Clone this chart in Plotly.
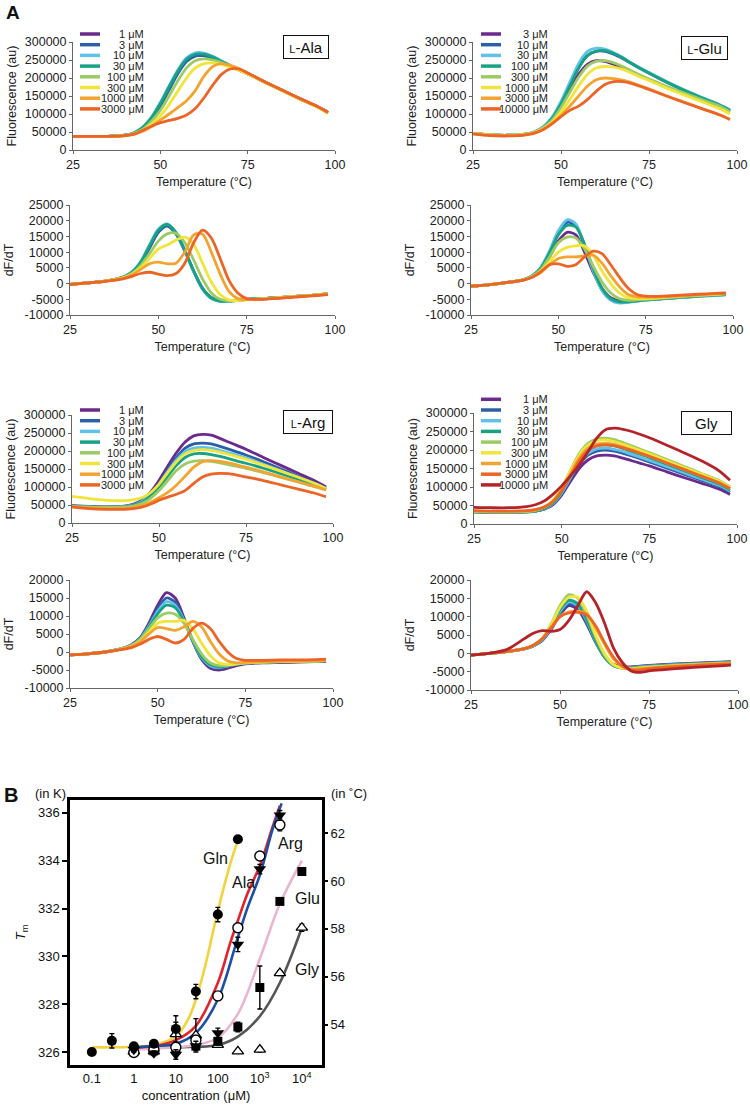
import plotly.graph_objects as go

W, H = 750, 1111
FONT = "Arial, Liberation Sans, Helvetica, sans-serif"

# ---------------- Panel A data (values in thousands) ----------------
T = [25, 30, 35, 40, 42.5, 45, 47.5, 50, 52.5, 55, 57.5, 60, 62.5, 65, 67.5, 70, 72.5, 75, 80, 85, 90, 95, 98]

ALA_CONC = ["1 μM", "3 μM", "10 μM", "30 μM", "100 μM", "300 μM", "1000 μM", "3000 μM"]
GLU_CONC = ["3 μM", "10 μM", "30 μM", "100 μM", "300 μM", "1000 μM", "3000 μM", "10000 μM"]
ARG_CONC = ["1 μM", "3 μM", "10 μM", "30 μM", "100 μM", "300 μM", "1000 μM", "3000 μM"]
GLY_CONC = ["1 μM", "3 μM", "10 μM", "30 μM", "100 μM", "300 μM", "1000 μM", "3000 μM", "10000 μM"]

COLORS = ["#6b2a8e", "#2c5fa8", "#62c0ea", "#17a383", "#9ccb64", "#f2e53a", "#f3a430", "#ec6426", "#b3242a"]

ALA_F = [
    [38, 38, 38, 41, 47, 62, 88, 125, 170, 215, 248, 262, 262, 255, 244, 232, 222, 212, 188, 165, 142, 120, 104],
    [38, 38, 38, 41, 47, 61, 86, 122, 167, 212, 246, 261, 262, 256, 245, 233, 222, 212, 188, 165, 142, 120, 104],
    [38, 38, 38, 41, 48, 64, 92, 132, 178, 222, 256, 270, 269, 260, 248, 235, 223, 212, 188, 165, 142, 120, 104],
    [38, 38, 38, 41, 48, 63, 90, 129, 175, 219, 252, 266, 266, 258, 246, 234, 222, 212, 188, 165, 142, 120, 104],
    [38, 38, 38, 41, 46, 58, 80, 110, 150, 192, 228, 248, 253, 250, 243, 232, 222, 212, 188, 165, 142, 120, 103],
    [38, 38, 38, 40, 45, 55, 72, 95, 126, 163, 200, 228, 240, 242, 238, 230, 221, 211, 187, 164, 141, 119, 102],
    [38, 38, 38, 40, 44, 52, 66, 83, 100, 118, 137, 165, 205, 232, 240, 235, 226, 214, 189, 165, 142, 120, 103],
    [38, 38, 38, 40, 44, 55, 66, 76, 82, 88, 97, 115, 145, 180, 210, 225, 225, 214, 189, 166, 143, 121, 105],
]
GLU_F = [
    [46, 42, 41, 44, 50, 62, 85, 122, 168, 210, 238, 248, 246, 238, 228, 216, 205, 195, 175, 156, 138, 120, 106],
    [46, 42, 41, 44, 50, 63, 88, 128, 178, 228, 262, 274, 274, 266, 254, 240, 226, 213, 188, 165, 145, 125, 110],
    [46, 42, 41, 44, 51, 65, 92, 135, 188, 240, 274, 283, 280, 270, 257, 242, 228, 215, 190, 167, 146, 126, 111],
    [46, 42, 41, 44, 50, 63, 88, 128, 178, 228, 263, 275, 276, 268, 256, 241, 227, 214, 189, 166, 145, 125, 110],
    [46, 42, 41, 44, 50, 62, 83, 118, 160, 202, 233, 246, 248, 242, 232, 220, 208, 197, 177, 158, 140, 122, 106],
    [46, 42, 41, 44, 49, 60, 78, 106, 140, 178, 210, 228, 232, 230, 224, 214, 203, 193, 172, 153, 134, 115, 100],
    [45, 41, 40, 43, 48, 58, 74, 96, 122, 150, 177, 195, 200, 198, 194, 187, 178, 170, 150, 133, 115, 98, 85],
    [45, 40, 39, 42, 47, 57, 73, 93, 110, 122, 140, 163, 182, 190, 190, 185, 177, 168, 150, 132, 115, 98, 85],
]
ALA_DF = [
    [-0.3, 0.2, 0.8, 2.0, 3.5, 6.5, 11.5, 16.5, 18.5, 16.0, 10.5, 4.0, -1.5, -4.5, -5.5, -5.5, -5.3, -5.0, -4.8, -4.4, -4.0, -3.6, -3.3],
    [-0.3, 0.2, 0.8, 2.0, 3.5, 6.4, 11.3, 16.3, 18.3, 15.8, 10.3, 3.9, -1.5, -4.5, -5.5, -5.5, -5.3, -5.0, -4.8, -4.4, -4.0, -3.6, -3.3],
    [-0.3, 0.2, 0.8, 2.1, 3.7, 7.0, 12.3, 17.3, 19.0, 16.3, 10.5, 3.8, -1.8, -4.8, -5.7, -5.6, -5.3, -5.0, -4.8, -4.4, -4.0, -3.6, -3.3],
    [-0.3, 0.2, 0.8, 2.1, 3.6, 6.8, 12.0, 17.0, 18.8, 16.2, 10.6, 4.0, -1.6, -4.6, -5.6, -5.6, -5.3, -5.0, -4.8, -4.4, -4.0, -3.6, -3.3],
    [-0.3, 0.2, 0.8, 1.9, 3.2, 5.8, 9.5, 13.5, 15.8, 16.0, 13.0, 7.5, 1.5, -3.0, -5.0, -5.5, -5.4, -5.1, -4.8, -4.4, -4.0, -3.6, -3.3],
    [-0.3, 0.2, 0.8, 1.8, 3.0, 5.0, 8.0, 11.0, 12.3, 13.8, 14.8, 12.5, 6.5, 0.5, -3.5, -5.2, -5.4, -5.2, -4.8, -4.4, -4.0, -3.6, -3.3],
    [-0.3, 0.2, 0.8, 1.7, 2.8, 4.5, 6.3, 6.8, 6.3, 6.5, 10.0, 15.5, 15.8, 10.0, 3.0, -2.5, -4.8, -5.1, -4.9, -4.5, -4.1, -3.7, -3.4],
    [-0.3, 0.2, 0.7, 1.5, 2.3, 3.2, 3.6, 3.0, 2.5, 3.2, 6.5, 13.0, 17.0, 14.5, 8.0, 1.0, -3.0, -4.8, -5.0, -4.6, -4.2, -3.8, -3.5],
]
GLU_DF = [
    [-0.8, -0.4, 0.3, 1.2, 2.3, 4.5, 8.5, 13.5, 16.3, 15.5, 10.0, 3.5, -1.5, -4.5, -5.5, -5.5, -5.2, -5.0, -4.6, -4.2, -3.8, -3.5, -3.3],
    [-0.8, -0.4, 0.3, 1.2, 2.4, 5.0, 10.0, 16.0, 19.5, 18.5, 12.0, 4.0, -2.0, -5.0, -6.0, -5.8, -5.5, -5.2, -4.8, -4.4, -4.0, -3.7, -3.5],
    [-0.8, -0.4, 0.3, 1.3, 2.5, 5.2, 10.5, 16.8, 20.3, 19.0, 12.3, 4.0, -2.2, -5.3, -6.2, -6.0, -5.6, -5.3, -4.9, -4.5, -4.1, -3.8, -3.6],
    [-0.8, -0.4, 0.3, 1.2, 2.4, 5.0, 9.8, 15.5, 18.5, 18.0, 12.5, 4.8, -1.5, -4.8, -5.8, -5.8, -5.5, -5.2, -4.8, -4.4, -4.0, -3.7, -3.5],
    [-0.8, -0.4, 0.3, 1.2, 2.3, 4.5, 8.5, 13.0, 14.8, 14.5, 11.0, 5.5, 0.5, -3.0, -4.8, -5.3, -5.2, -5.0, -4.6, -4.2, -3.8, -3.5, -3.3],
    [-0.8, -0.4, 0.3, 1.2, 2.2, 4.0, 7.0, 10.0, 11.5, 12.0, 12.0, 9.0, 4.0, 0.0, -3.0, -4.5, -4.8, -4.8, -4.5, -4.0, -3.7, -3.4, -3.2],
    [-0.8, -0.4, 0.3, 1.1, 2.0, 3.5, 6.0, 8.0, 8.5, 8.5, 8.8, 9.0, 6.5, 2.5, -1.0, -3.5, -4.2, -4.3, -4.2, -3.9, -3.6, -3.3, -3.1],
    [-0.8, -0.4, 0.3, 1.1, 2.0, 3.8, 6.0, 6.3, 5.5, 6.0, 8.5, 10.3, 9.5, 6.0, 2.0, -1.5, -3.5, -4.0, -4.0, -3.7, -3.4, -3.1, -3.0],
]
ARG_F = [
    [48, 46, 45, 47, 52, 63, 85, 118, 158, 195, 225, 242, 246, 244, 235, 225, 215, 205, 182, 160, 138, 116, 100],
    [47, 45, 44, 46, 50, 60, 80, 110, 148, 182, 208, 220, 222, 220, 213, 205, 197, 189, 170, 150, 130, 110, 97],
    [47, 45, 44, 46, 50, 60, 79, 107, 143, 175, 198, 208, 210, 208, 202, 195, 188, 181, 163, 145, 127, 108, 96],
    [47, 45, 44, 45, 49, 57, 74, 98, 130, 160, 182, 192, 193, 190, 185, 179, 172, 166, 152, 137, 121, 105, 94],
    [46, 44, 43, 44, 47, 54, 68, 90, 118, 146, 164, 172, 173, 171, 167, 162, 157, 152, 140, 127, 114, 100, 92],
    [74, 68, 63, 62, 64, 70, 84, 108, 140, 170, 192, 201, 204, 202, 197, 191, 184, 177, 161, 144, 127, 109, 96],
    [45, 42, 40, 41, 43, 48, 57, 70, 85, 105, 130, 155, 170, 173, 171, 167, 161, 155, 142, 128, 114, 101, 92],
    [45, 40, 38, 38, 40, 44, 52, 63, 72, 80, 90, 110, 128, 136, 138, 137, 133, 128, 118, 106, 94, 82, 73],
]
GLY_F = [
    [33, 32, 32, 33, 35, 40, 52, 78, 115, 150, 173, 184, 186, 184, 178, 171, 164, 157, 141, 125, 110, 94, 80],
    [33, 32, 32, 33, 35, 41, 54, 82, 122, 160, 186, 197, 200, 197, 191, 184, 176, 168, 151, 134, 118, 101, 86],
    [33, 32, 32, 33, 35, 41, 55, 84, 125, 165, 191, 203, 205, 202, 196, 188, 180, 172, 155, 138, 121, 104, 89],
    [33, 32, 32, 33, 35, 42, 57, 88, 130, 172, 200, 212, 214, 211, 204, 196, 188, 180, 162, 144, 126, 108, 92],
    [34, 33, 33, 34, 37, 45, 63, 98, 145, 190, 218, 230, 232, 228, 220, 211, 202, 193, 174, 155, 136, 117, 101],
    [35, 34, 34, 35, 38, 46, 64, 98, 143, 186, 213, 225, 227, 223, 215, 207, 198, 190, 171, 152, 134, 115, 99],
    [35, 34, 34, 35, 38, 45, 61, 93, 136, 178, 205, 216, 218, 215, 208, 200, 191, 183, 165, 147, 129, 111, 96],
    [36, 35, 35, 36, 39, 46, 61, 90, 130, 171, 199, 211, 214, 212, 206, 199, 191, 183, 165, 147, 129, 111, 96],
    [45, 44, 44, 47, 52, 62, 80, 103, 130, 160, 195, 232, 255, 259, 256, 250, 242, 233, 213, 192, 170, 143, 118],
]
ARG_DF = [
    [-0.8, -0.5, 0.0, 1.0, 2.0, 4.0, 8.0, 13.0, 16.5, 15.0, 9.5, 3.0, -2.0, -4.5, -5.0, -4.5, -3.8, -3.3, -3.0, -2.9, -2.8, -2.7, -2.6],
    [-0.8, -0.5, 0.0, 1.0, 1.9, 3.8, 7.5, 12.0, 15.0, 13.8, 9.0, 3.0, -1.8, -4.0, -4.5, -4.0, -3.5, -3.1, -2.9, -2.8, -2.7, -2.6, -2.5],
    [-0.8, -0.5, 0.0, 1.0, 1.9, 3.7, 7.2, 11.3, 14.0, 13.0, 8.8, 3.2, -1.5, -3.8, -4.3, -3.9, -3.4, -3.0, -2.8, -2.7, -2.6, -2.5, -2.4],
    [-0.8, -0.5, 0.0, 1.0, 1.8, 3.6, 6.9, 10.6, 13.0, 12.3, 8.5, 3.3, -1.2, -3.5, -4.1, -3.8, -3.3, -3.0, -2.8, -2.7, -2.6, -2.5, -2.4],
    [-0.8, -0.5, 0.0, 1.0, 1.8, 3.5, 6.5, 9.5, 10.8, 10.5, 8.0, 3.5, -0.5, -3.0, -3.8, -3.7, -3.3, -3.0, -2.8, -2.7, -2.6, -2.5, -2.4],
    [-0.8, -0.5, 0.0, 0.9, 1.6, 3.0, 5.5, 8.0, 8.5, 8.5, 8.8, 6.5, 2.5, -1.0, -3.0, -3.5, -3.3, -3.0, -2.8, -2.7, -2.6, -2.5, -2.4],
    [-0.8, -0.5, 0.0, 0.9, 1.5, 2.8, 5.0, 6.8, 6.5, 6.0, 7.0, 8.5, 7.0, 3.0, -0.5, -2.5, -3.0, -2.9, -2.7, -2.6, -2.5, -2.4, -2.3],
    [-0.8, -0.5, 0.0, 0.7, 1.2, 2.2, 3.5, 4.3, 3.5, 2.5, 3.5, 6.5, 8.0, 6.5, 3.0, 0.0, -1.8, -2.3, -2.3, -2.2, -2.2, -2.1, -2.0],
]
GLY_DF = [
    [-0.5, 0.0, 0.5, 1.2, 2.0, 3.5, 6.5, 10.5, 13.0, 12.0, 8.0, 3.0, -1.0, -3.0, -3.6, -3.7, -3.5, -3.3, -3.0, -2.8, -2.6, -2.4, -2.3],
    [-0.5, 0.0, 0.5, 1.2, 2.0, 3.6, 6.8, 11.0, 13.5, 12.5, 8.5, 3.2, -1.0, -3.2, -3.8, -3.8, -3.6, -3.4, -3.1, -2.9, -2.7, -2.5, -2.4],
    [-0.5, 0.0, 0.5, 1.2, 2.1, 3.7, 7.0, 11.4, 14.0, 13.0, 8.8, 3.4, -1.0, -3.3, -3.9, -3.9, -3.7, -3.5, -3.2, -3.0, -2.8, -2.6, -2.5],
    [-0.5, 0.0, 0.5, 1.3, 2.1, 3.8, 7.3, 11.9, 14.5, 13.5, 9.2, 3.6, -1.0, -3.4, -4.0, -4.0, -3.8, -3.6, -3.3, -3.0, -2.8, -2.6, -2.5],
    [-0.5, 0.0, 0.5, 1.3, 2.2, 4.0, 8.0, 13.0, 16.0, 15.0, 10.5, 4.5, -0.5, -3.2, -4.0, -4.1, -3.9, -3.7, -3.4, -3.1, -2.9, -2.7, -2.6],
    [-0.5, 0.0, 0.5, 1.3, 2.2, 4.0, 7.8, 12.5, 15.3, 15.3, 11.5, 5.0, 0.0, -3.0, -4.0, -4.2, -4.0, -3.8, -3.5, -3.2, -3.0, -2.8, -2.7],
    [-0.5, 0.0, 0.5, 1.3, 2.2, 4.0, 7.0, 10.0, 11.3, 11.5, 10.8, 7.0, 2.5, -1.5, -3.5, -4.2, -4.2, -4.0, -3.6, -3.3, -3.0, -2.8, -2.7],
    [-0.5, 0.0, 0.5, 1.3, 2.2, 4.0, 7.0, 10.0, 11.0, 11.2, 10.5, 7.5, 3.0, -1.0, -3.5, -4.5, -4.5, -4.2, -3.8, -3.5, -3.2, -3.0, -2.9],
    [-0.5, 0.0, 1.0, 4.0, 5.5, 6.2, 6.0, 6.5, 9.0, 13.0, 16.8, 13.8, 8.3, 1.5, -2.5, -4.8, -5.2, -4.8, -4.4, -4.0, -3.7, -3.4, -3.2],
]

T_TICKS = [25, 50, 75, 100]
F_TICKS = [0, 50000, 100000, 150000, 200000, 250000, 300000]
DF_TICKS_A = [-10000, -5000, 0, 5000, 10000, 15000, 20000, 25000]
DF_TICKS_B = [-10000, -5000, 0, 5000, 10000, 15000, 20000]

# ---------------- Panel B data ----------------
GLN_C = [0.1, 0.3, 1, 3, 10, 30, 100, 300]
GLN_TM = [326.0, 326.47, 326.24, 326.35, 326.97, 328.53, 331.75, 334.9]
GLN_ERR = [0.05, 0.3, 0.1, 0.1, 0.55, 0.3, 0.3, 0.05]
ALA_C = [1, 3, 10, 30, 100, 300, 1000, 3000]
ALA_TM = [326.1, 325.95, 325.9, 326.25, 326.8, 330.5, 333.65, 335.9]
ALA_ERR = [0.1, 0.1, 0.2, 0.2, 0.2, 0.3, 0.2, 0.2]
ARG_C = [1, 3, 10, 30, 100, 300, 1000, 3000]
ARG_TM = [325.98, 326.1, 326.2, 326.5, 328.35, 331.2, 334.2, 335.5]
ARG_ERR = [0.1, 0.1, 0.1, 0.2, 0.1, 0.1, 0.1, 0.25]
GLU_C = [1, 3, 10, 30, 100, 300, 1000, 3000, 10000]
GLU_TM = [326.1, 326.05, 326.1, 326.25, 326.45, 327.05, 328.7, 332.3, 333.55]
GLU_ERR = [0.1, 0.1, 0.1, 0.15, 0.15, 0.2, 0.9, 0.1, 0.1]
GLY_C = [1, 3, 10, 30, 100, 300, 1000, 3000, 10000]
GLY_TM = [326.03, 326.03, 326.75, 326.7, 326.3, 326.03, 326.1, 329.3, 331.2]
GLY_ERR = [0.05, 0.05, 0.5, 0.7, 0.1, 0.05, 0.1, 0.1, 0.15]

# fitted curves
GLN_FIT_C = [0.1, 0.3, 1, 3, 10, 20, 30, 50, 100, 200, 300]
GLN_FIT_TM = [326.2, 326.2, 326.22, 326.3, 326.65, 327.4, 328.2, 329.6, 331.9, 333.9, 334.85]
ALA_FIT_C = [1, 3, 10, 30, 100, 200, 300, 500, 1000, 2000, 3000]
ALA_FIT_TM = [326.2, 326.25, 326.5, 327.1, 328.9, 330.6, 331.5, 332.6, 333.8, 335.4, 336.3]
ARG_FIT_C = [1, 3, 10, 30, 100, 300, 500, 1000, 2000, 3300]
ARG_FIT_TM = [326.2, 326.25, 326.35, 326.8, 328.2, 330.8, 332.0, 333.4, 335.3, 336.4]
GLU_FIT_C = [1, 10, 30, 100, 300, 1000, 3000, 10000]
GLU_FIT_TM = [326.1, 326.2, 326.3, 326.6, 327.6, 329.9, 332.2, 334.0]
GLY_FIT_C = [1, 10, 100, 300, 1000, 3000, 10000]
GLY_FIT_TM = [326.15, 326.2, 326.3, 326.65, 327.5, 328.9, 331.2]

B_X_TICKS = [0.1, 1, 10, 100, 1000, 10000]
B_X_LABELS = ["0.1", "1", "10", "100", "10<sup>3</sup>", "10<sup>4</sup>"]
K_TICKS = [326, 328, 330, 332, 334, 336]
C_TICKS = [54, 56, 58, 60, 62]

# ---------------- helpers ----------------
def xd(a, b):
    return [a / W, b / W]

def yd(top, bottom):
    return [1 - bottom / H, 1 - top / H]

fig = go.Figure()
layout = dict(width=W, height=H, margin=dict(l=0, r=0, t=0, b=0, autoexpand=False),
              paper_bgcolor="white", plot_bgcolor="white", showlegend=False,
              font=dict(family=FONT, size=12.5, color="#222"))
annotations = []
shapes = []

AX = dict(showline=True, linecolor="#666", linewidth=1, ticks="outside", ticklen=3,
          tickcolor="#666", tickwidth=1, showgrid=False, zeroline=False, ticklabeloverflow="allow",
          tickfont=dict(family=FONT, size=12.5, color="#222"))

panels = [
    # rows, labels, xpx, ypx, yrange, yticks, ytitle, standoff, legend(x0,x1,xtext,ytop), box(text,cx,cy,w)
    (ALA_F, ALA_CONC, (73, 335), (42, 150), [0, 300000], F_TICKS, "Fluorescence (au)", 5,
     (80, 100, 146, 34), ("<span style='font-size:11px'>L</span>-Ala", 305.5, 47, 40)),
    (GLU_F, GLU_CONC, (473, 737), (42, 150), [0, 300000], F_TICKS, "Fluorescence (au)", 5,
     (481, 501, 550, 34), ("<span style='font-size:11px'>L</span>-Glu", 704.5, 48, 41)),
    (ALA_DF, ALA_CONC, (70, 335), (205, 315), [-10000, 25000], DF_TICKS_A, "dF/dT", 8, None, None),
    (GLU_DF, GLU_CONC, (471, 733), (205, 315), [-10000, 25000], DF_TICKS_A, "dF/dT", 8, None, None),
    (ARG_F, ARG_CONC, (72, 333), (415, 523), [0, 300000], F_TICKS, "Fluorescence (au)", 5,
     (80, 100, 146, 410), ("<span style='font-size:11px'>L</span>-Arg", 308, 422, 44)),
    (GLY_F, GLY_CONC, (474, 737), (413, 524), [0, 300000], F_TICKS, "Fluorescence (au)", 5,
     (481, 501, 550, 399.3), ("Gly", 706.5, 423, 45)),
    (ARG_DF, ARG_CONC, (70, 333), (580, 688), [-10000, 20000], DF_TICKS_B, "dF/dT", 8, None, None),
    (GLY_DF, GLY_CONC, (471, 738), (580, 690), [-10000, 20000], DF_TICKS_B, "dF/dT", 8, None, None),
]

for i, (rows, labels, xp, yp, yr, yt, ytitle, so, leg, box) in enumerate(panels, start=1):
    xa = "x" if i == 1 else f"x{i}"
    ya = "y" if i == 1 else f"y{i}"
    for j, row in enumerate(rows):
        fig.add_trace(go.Scatter(x=T, y=[v * 1000 for v in row], mode="lines",
                                 line=dict(color=COLORS[j], width=2.8, shape="spline", smoothing=0.8),
                                 xaxis=xa, yaxis=ya, hoverinfo="skip"))
    layout[f"xaxis{'' if i == 1 else i}"] = dict(
        AX, domain=xd(*xp), range=[25, 100], anchor=ya, tickvals=T_TICKS,
        ticktext=[str(v) for v in T_TICKS],
        title=dict(text="Temperature (°C)", font=dict(size=12.5, color="#222"), standoff=6))
    layout[f"yaxis{'' if i == 1 else i}"] = dict(
        AX, domain=yd(*yp), range=yr, anchor=xa, tickvals=yt, ticktext=[str(v) for v in yt],
        title=dict(text=ytitle, font=dict(size=12.5, color="#222"), standoff=so))
    if leg:
        x0, x1, xt, ytop = leg
        for j, lab in enumerate(labels):
            yy = ytop + j * 10.7
            shapes.append(dict(type="line", xref="paper", yref="paper", x0=x0 / W, x1=x1 / W,
                               y0=1 - yy / H, y1=1 - yy / H, line=dict(color=COLORS[j], width=3.5)))
            annotations.append(dict(text=lab, xref="paper", yref="paper", x=xt / W, y=1 - yy / H,
                                    xanchor="right", yanchor="middle", showarrow=False,
                                    font=dict(size=11, color="#222")))
    if box:
        txt, cx, cy, bw = box
        annotations.append(dict(text=txt, xref="paper", yref="paper", x=cx / W, y=1 - cy / H,
                                xanchor="center", yanchor="middle", showarrow=False,
                                font=dict(size=15, color="#111"), bordercolor="#111", borderwidth=1,
                                borderpad=2, width=bw, height=18, bgcolor="white"))

# ---------------- Panel B ----------------
fits = [(GLN_FIT_C, GLN_FIT_TM, "#f2d33c"), (GLY_FIT_C, GLY_FIT_TM, "#555555"),
        (GLU_FIT_C, GLU_FIT_TM, "#eab6cf"), (ALA_FIT_C, ALA_FIT_TM, "#e3232b"),
        (ARG_FIT_C, ARG_FIT_TM, "#1d4fa6")]
for c, tm, col in fits:
    fig.add_trace(go.Scatter(x=c, y=tm, mode="lines", line=dict(color=col, width=2.6, shape="spline"),
                             xaxis="x9", yaxis="y9", hoverinfo="skip"))

pts = [
    (GLY_C, GLY_TM, GLY_ERR, dict(symbol="triangle-up", size=10, color="white", line=dict(width=1.3, color="black"))),
    (GLU_C, GLU_TM, GLU_ERR, dict(symbol="square", size=9, color="black")),
    (ARG_C, ARG_TM, ARG_ERR, dict(symbol="circle", size=10, color="white", line=dict(width=1.4, color="black"))),
    (ALA_C, ALA_TM, ALA_ERR, dict(symbol="triangle-down", size=11, color="black")),
    (GLN_C, GLN_TM, GLN_ERR, dict(symbol="circle", size=10, color="black")),
]
for c, tm, err, mk in pts:
    fig.add_trace(go.Scatter(x=c, y=tm, mode="markers", marker=mk,
                             error_y=dict(type="data", array=err, color="black", thickness=1.4, width=2.5),
                             xaxis="x9", yaxis="y9", hoverinfo="skip"))

BAX = dict(showgrid=False, zeroline=False, tickfont=dict(family=FONT, size=13, color="#111"))
layout["xaxis9"] = dict(BAX, domain=xd(70, 322), type="log", range=[-1.52, 4.48], anchor="y9",
                        showline=True, mirror=True, linewidth=2.5, linecolor="black", ticks="",
                        tickvals=B_X_TICKS, ticktext=B_X_LABELS,
                        title=dict(text="concentration (μM)", font=dict(size=13, color="#111"), standoff=6))
layout["yaxis9"] = dict(BAX, domain=yd(800, 1065), range=[325.46, 336.54], anchor="x9",
                        showline=True, mirror=True, linewidth=2.5, linecolor="black",
                        ticks="outside", ticklen=5, tickwidth=1.5, tickcolor="black",
                        tickvals=K_TICKS, ticktext=[str(v) for v in K_TICKS],
                        title=dict(text="<i>T</i><sub>m</sub>", font=dict(size=13, color="#111"), standoff=10))
layout["yaxis10"] = dict(BAX, overlaying="y9", side="right", anchor="x9",
                         range=[325.46 - 273.15, 336.54 - 273.15], showline=False,
                         ticks="outside", ticklen=5, tickwidth=1.5, tickcolor="black",
                         tickvals=C_TICKS, ticktext=[str(v) for v in C_TICKS])
# invisible trace so that the right-hand (°C) axis is drawn
fig.add_trace(go.Scatter(x=[1], y=[60], mode="markers", marker=dict(opacity=0), xaxis="x9", yaxis="y10",
                         hoverinfo="skip"))

labels_B = [("Gln", 216, 858), ("Ala", 243, 882), ("Arg", 290, 843), ("Glu", 307, 898), ("Gly", 307, 969)]
for txt, x, y in labels_B:
    annotations.append(dict(text=txt, xref="paper", yref="paper", x=x / W, y=1 - y / H, showarrow=False,
                            xanchor="center", yanchor="middle", font=dict(size=16, color="#111")))

annotations += [
    dict(text="<b>A</b>", xref="paper", yref="paper", x=4 / W, y=1 - 13 / H, xanchor="left",
         yanchor="middle", showarrow=False, font=dict(size=19, color="#111")),
    dict(text="<b>B</b>", xref="paper", yref="paper", x=2 / W, y=1 - 795 / H, xanchor="left",
         yanchor="middle", showarrow=False, font=dict(size=20, color="#111")),
    dict(text="(in K)", xref="paper", yref="paper", x=50 / W, y=1 - 793 / H, xanchor="center",
         yanchor="middle", showarrow=False, font=dict(size=13, color="#111")),
    dict(text="(in ˚C)", xref="paper", yref="paper", x=349 / W, y=1 - 793 / H, xanchor="center",
         yanchor="middle", showarrow=False, font=dict(size=13, color="#111")),
]

layout["annotations"] = annotations
layout["shapes"] = shapes
fig.update_layout(**layout)
fig.write_html("out.html", config={"displayModeBar": False},
               post_script="document.body.style.margin='0px';")
